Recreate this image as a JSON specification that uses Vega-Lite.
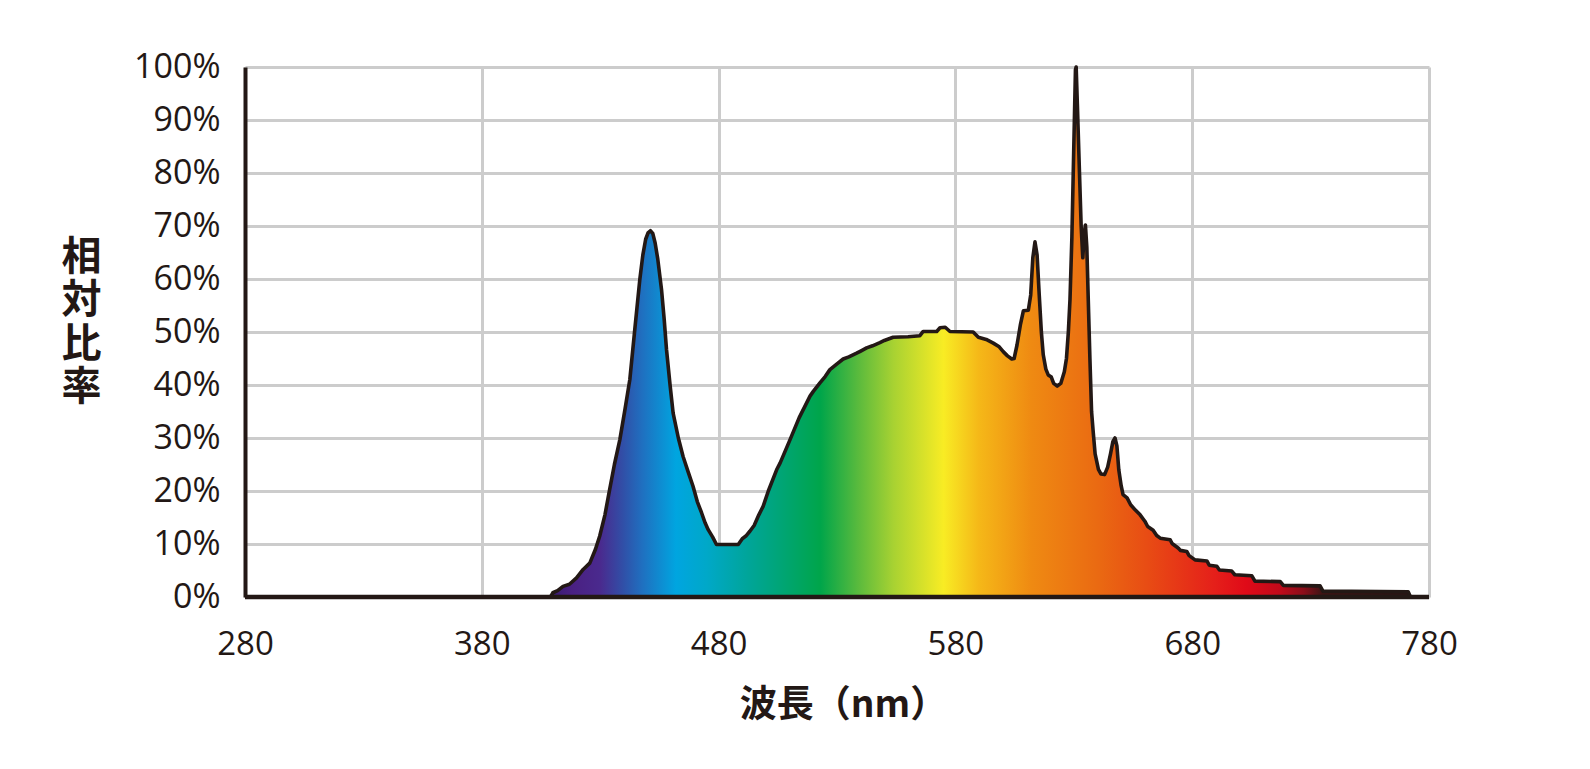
{
  "$schema": "https://vega.github.io/schema/vega-lite/v6.json",
  "width": 1184,
  "height": 530,
  "autosize": {"type": "none"},
  "padding": {"left": 245, "top": 67, "right": 161, "bottom": 172},
  "background": "white",
  "config": {"view": {"stroke": null}},
  "data": {"values": [
    {"wl": 409, "v": 0}, {"wl": 410, "v": 0.8}, {"wl": 412, "v": 1.2}, {"wl": 414.3, "v": 2.0}, {"wl": 417, "v": 2.4},
    {"wl": 420, "v": 3.6}, {"wl": 422.8, "v": 5.2}, {"wl": 425.6, "v": 6.4}, {"wl": 428, "v": 9}, {"wl": 429.8, "v": 11.5},
    {"wl": 432, "v": 15.5}, {"wl": 434, "v": 20.3}, {"wl": 436, "v": 25}, {"wl": 438.3, "v": 29.7}, {"wl": 440.5, "v": 35.5},
    {"wl": 442.5, "v": 41}, {"wl": 444.5, "v": 50}, {"wl": 446.7, "v": 59.8}, {"wl": 448, "v": 64.5}, {"wl": 449.2, "v": 67.5},
    {"wl": 450.2, "v": 68.7}, {"wl": 451.2, "v": 69.1}, {"wl": 452.2, "v": 68.6}, {"wl": 453.2, "v": 66.8}, {"wl": 454.3, "v": 63.8},
    {"wl": 455.9, "v": 58}, {"wl": 457, "v": 52.5},
    {"wl": 458, "v": 46.7}, {"wl": 459.5, "v": 40}, {"wl": 460.8, "v": 34.7}, {"wl": 463, "v": 30}, {"wl": 465, "v": 26.5},
    {"wl": 467, "v": 23.8}, {"wl": 469.2, "v": 20.9}, {"wl": 471, "v": 18}, {"wl": 472.8, "v": 15.9}, {"wl": 474.3, "v": 14},
    {"wl": 475.6, "v": 12.7}, {"wl": 477.5, "v": 11.3}, {"wl": 479.1, "v": 9.9}, {"wl": 488.3, "v": 9.9}, {"wl": 490, "v": 11},
    {"wl": 491.5, "v": 11.5}, {"wl": 493.2, "v": 12.4}, {"wl": 495, "v": 13.5}, {"wl": 497, "v": 15.5}, {"wl": 498.8, "v": 17.1},
    {"wl": 501, "v": 20}, {"wl": 504.5, "v": 24}, {"wl": 506, "v": 25.3}, {"wl": 510, "v": 29.5}, {"wl": 514, "v": 33.8},
    {"wl": 518.6, "v": 37.9}, {"wl": 520, "v": 38.8}, {"wl": 522.8, "v": 40.4}, {"wl": 525, "v": 41.6}, {"wl": 527, "v": 42.9},
    {"wl": 530, "v": 44}, {"wl": 532.6, "v": 44.9}, {"wl": 535, "v": 45.3}, {"wl": 538.3, "v": 46}, {"wl": 540, "v": 46.4},
    {"wl": 542.5, "v": 47}, {"wl": 545, "v": 47.4}, {"wl": 548.1, "v": 48}, {"wl": 550, "v": 48.4}, {"wl": 553.7, "v": 49},
    {"wl": 560, "v": 49.1}, {"wl": 565, "v": 49.3}, {"wl": 566.4, "v": 50.1}, {"wl": 572.1, "v": 50.1}, {"wl": 573.5, "v": 50.8},
    {"wl": 575.7, "v": 50.9}, {"wl": 577.7, "v": 50.1}, {"wl": 587.5, "v": 50}, {"wl": 589.7, "v": 49}, {"wl": 593, "v": 48.6},
    {"wl": 596, "v": 47.9}, {"wl": 598.5, "v": 47.2}, {"wl": 600.2, "v": 46.3}, {"wl": 602, "v": 45.5}, {"wl": 603.8, "v": 44.9},
    {"wl": 604.8, "v": 45}, {"wl": 606, "v": 47.5}, {"wl": 607.5, "v": 51.5}, {"wl": 608.7, "v": 54}, {"wl": 610.8, "v": 54.1},
    {"wl": 611.8, "v": 57}, {"wl": 612.7, "v": 64}, {"wl": 613.6, "v": 67}, {"wl": 614.5, "v": 64.5}, {"wl": 615.4, "v": 57},
    {"wl": 616.3, "v": 50}, {"wl": 617.1, "v": 45.7}, {"wl": 618.2, "v": 43}, {"wl": 619.2, "v": 41.9}, {"wl": 620.5, "v": 41.5},
    {"wl": 621.5, "v": 40.3}, {"wl": 623, "v": 39.8}, {"wl": 624.5, "v": 40.3}, {"wl": 626, "v": 42.5}, {"wl": 626.9, "v": 45},
    {"wl": 627.7, "v": 50}, {"wl": 628.4, "v": 56.2}, {"wl": 629.2, "v": 68}, {"wl": 630, "v": 85}, {"wl": 630.7, "v": 99.5},
    {"wl": 631, "v": 100}, {"wl": 631.5, "v": 93}, {"wl": 632.4, "v": 80}, {"wl": 633.1, "v": 70}, {"wl": 633.8, "v": 64},
    {"wl": 634.4, "v": 68.5}, {"wl": 634.9, "v": 70.2}, {"wl": 635.5, "v": 66}, {"wl": 636.1, "v": 56.2}, {"wl": 636.8, "v": 45},
    {"wl": 637.5, "v": 35}, {"wl": 638.2, "v": 31.1}, {"wl": 639, "v": 27}, {"wl": 640.4, "v": 24.1}, {"wl": 641.5, "v": 23.2},
    {"wl": 643, "v": 23.1}, {"wl": 644.3, "v": 24.5}, {"wl": 645.5, "v": 27}, {"wl": 646.5, "v": 29.3}, {"wl": 647.4, "v": 30},
    {"wl": 648.2, "v": 28.5}, {"wl": 649, "v": 24}, {"wl": 650, "v": 21}, {"wl": 650.8, "v": 19.3}, {"wl": 652.5, "v": 18.7},
    {"wl": 654, "v": 17.4}, {"wl": 656, "v": 16.4}, {"wl": 658, "v": 15.5}, {"wl": 660, "v": 14.3}, {"wl": 661.2, "v": 13.3},
    {"wl": 663.5, "v": 12.6}, {"wl": 665, "v": 11.6}, {"wl": 666.5, "v": 11.1}, {"wl": 670.7, "v": 10.8}, {"wl": 671.5, "v": 10.1},
    {"wl": 674.2, "v": 9.2}, {"wl": 675, "v": 8.8}, {"wl": 677.7, "v": 8.6}, {"wl": 678.7, "v": 7.8}, {"wl": 681.2, "v": 7.0},
    {"wl": 686.2, "v": 6.8}, {"wl": 687.2, "v": 6.0}, {"wl": 690.4, "v": 5.8}, {"wl": 691.5, "v": 5.1}, {"wl": 696.7, "v": 4.9},
    {"wl": 698, "v": 4.2}, {"wl": 705.2, "v": 4.0}, {"wl": 706.5, "v": 3.0}, {"wl": 717.2, "v": 2.9}, {"wl": 718.5, "v": 2.2},
    {"wl": 734, "v": 2.1}, {"wl": 735.2, "v": 1.1}, {"wl": 771.2, "v": 1.0}, {"wl": 772.2, "v": 0}
  ]},
  "encoding": {
    "x": {
      "field": "wl", "type": "quantitative",
      "scale": {"domain": [280, 780], "nice": false, "zero": false},
      "axis": {
        "values": [280, 380, 480, 580, 680, 780],
        "title": "波長（nm）",
        "titleFont": "Noto Sans CJK JP", "titleFontSize": 37, "titleFontWeight": "bold", "titleColor": "#231815",
        "titleBaseline": "middle", "titleY": 108, "titleX": 598,
        "labelFont": "Open Sans", "labelFontSize": 33, "labelColor": "#231815",
        "labelBaseline": "middle", "labelPadding": 47, "tickSize": 0, "ticks": false,
        "labelFlush": false, "labelOverlap": false,
        "domain": false,
        "grid": true, "gridColor": "#cccccc", "gridWidth": 3
      }
    },
    "y": {
      "field": "v", "type": "quantitative",
      "scale": {"domain": [0, 100], "nice": false},
      "axis": {
        "values": [0, 10, 20, 30, 40, 50, 60, 70, 80, 90, 100],
        "labelExpr": "datum.value + '%'",
        "title": ["相", "対", "比", "率"],
        "titleAngle": 0, "titleFont": "Noto Sans CJK JP", "titleFontSize": 40, "titleFontWeight": "bold", "titleColor": "#231815",
        "titleLineHeight": 43.5, "titleAlign": "center", "titleBaseline": "middle", "titleX": -164, "titleY": 190,
        "labelFont": "Open Sans", "labelFontSize": 34, "labelColor": "#231815",
        "labelPadding": 25, "tickSize": 0, "ticks": false, "labelFlush": false, "labelOverlap": false,
        "domain": true, "domainColor": "#231815", "domainWidth": 4,
        "grid": true, "gridColor": "#cccccc", "gridWidth": 3
      }
    }
  },
  "layer": [
    {
      "mark": {
        "type": "area",
        "interpolate": "linear",
        "fill": {
          "gradient": "linear", "x1": 0, "x2": 1, "y1": 0, "y2": 0,
          "stops": [
            {"offset": 0, "color": "#3a1c70"},
            {"offset": 0.025, "color": "#4a2082"},
            {"offset": 0.058, "color": "#4a2a8e"},
            {"offset": 0.085, "color": "#3050a8"},
            {"offset": 0.107, "color": "#1f70c0"},
            {"offset": 0.146, "color": "#00a5e0"},
            {"offset": 0.182, "color": "#00a8c8"},
            {"offset": 0.229, "color": "#00a59a"},
            {"offset": 0.314, "color": "#00a54a"},
            {"offset": 0.361, "color": "#60bc3c"},
            {"offset": 0.399, "color": "#a8d232"},
            {"offset": 0.457, "color": "#f8ec24"},
            {"offset": 0.498, "color": "#f5b818"},
            {"offset": 0.559, "color": "#ef8a12"},
            {"offset": 0.636, "color": "#ea6a12"},
            {"offset": 0.694, "color": "#e84c14"},
            {"offset": 0.771, "color": "#e5201a"},
            {"offset": 0.809, "color": "#e00a18"},
            {"offset": 0.848, "color": "#c00a1a"},
            {"offset": 0.876, "color": "#8a0e1a"},
            {"offset": 0.898, "color": "#3a1414"},
            {"offset": 1, "color": "#2a1414"}
          ]
        },
        "stroke": null
      }
    },
    {
      "mark": {"type": "line", "interpolate": "linear", "color": "#231815", "strokeWidth": 3.6, "strokeJoin": "round"}
    },
    {
      "data": {"values": [{"y0": 0}]},
      "mark": {"type": "rule", "color": "#231815", "strokeWidth": 4.5},
      "encoding": {"y": {"field": "y0", "type": "quantitative"}, "x": null}
    }
  ]
}
